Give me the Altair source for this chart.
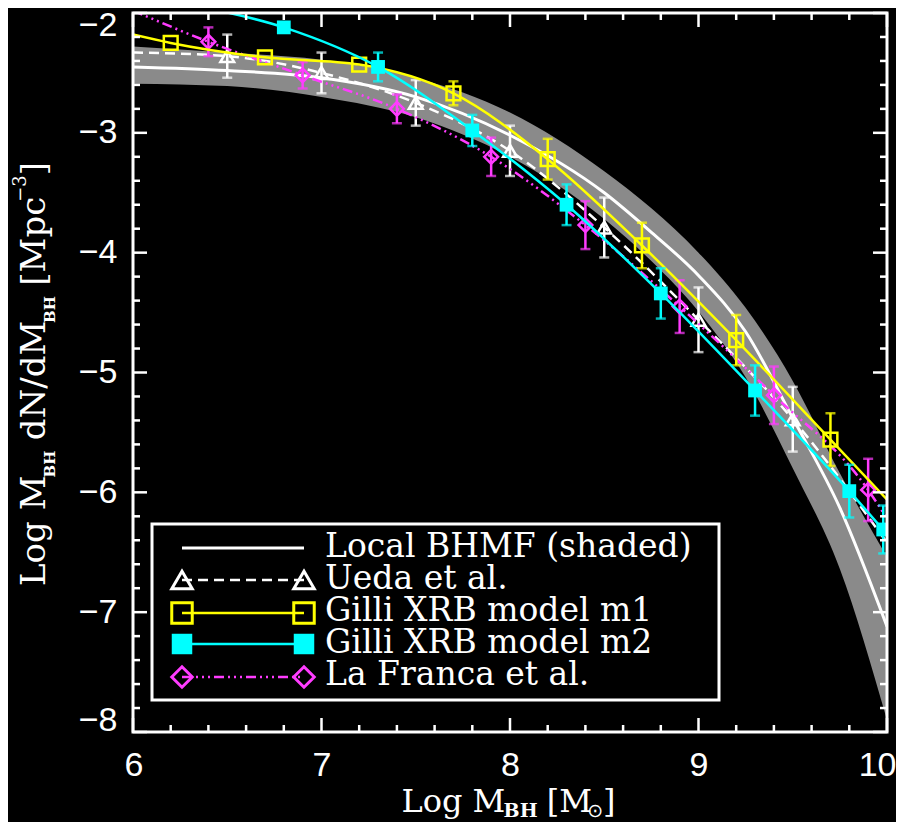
import altair as alt
import pandas as pd

# ---------------- data ----------------
band_x   = [6.0, 6.5, 7.0, 7.5, 8.0, 8.5, 8.75, 9.0, 9.25, 9.5, 9.75, 10.0]
band_mid = [-2.45, -2.48, -2.54, -2.70, -3.02, -3.50, -3.83, -4.19, -4.66, -5.38, -6.13, -7.12]
band_hi  = [-2.28, -2.33, -2.39, -2.54, -2.83, -3.32, -3.63, -4.00, -4.46, -5.07, -5.84, -6.54]
band_lo  = [-2.59, -2.61, -2.70, -2.87, -3.20, -3.72, -4.07, -4.49, -5.04, -5.80, -6.64, -7.90]

ueda_x   = [6.5, 7.0, 7.5, 8.0, 8.5, 9.0, 9.5]
ueda_y   = [-2.36, -2.50, -2.75, -3.15, -3.79, -4.56, -5.39]
ueda_err = [0.18, 0.17, 0.19, 0.21, 0.25, 0.27, 0.27]
ueda_lx  = [6.0, 6.5, 7.0, 7.5, 8.0, 8.5, 9.0, 9.5, 10.0]
ueda_ly  = [-2.33, -2.36, -2.50, -2.75, -3.15, -3.79, -4.56, -5.39, -6.42]

m1_x   = [6.2, 6.7, 7.2, 7.7, 8.2, 8.7, 9.2, 9.7]
m1_y   = [-2.25, -2.37, -2.43, -2.67, -3.22, -3.94, -4.73, -5.56]
m1_err = [0.0, 0.0, 0.0, 0.10, 0.17, 0.19, 0.21, 0.22]
m1_lx  = [6.0, 6.2, 6.7, 7.2, 7.7, 8.2, 8.7, 9.2, 9.7, 10.0]
m1_ly  = [-2.18, -2.25, -2.37, -2.43, -2.67, -3.22, -3.94, -4.73, -5.56, -6.06]

m2_x   = [6.8, 7.3, 7.8, 8.3, 8.8, 9.3, 9.8, 9.98]
m2_y   = [-2.12, -2.45, -2.98, -3.60, -4.34, -5.15, -5.99, -6.31]
m2_err = [0.0, 0.12, 0.13, 0.17, 0.21, 0.21, 0.22, 0.20]
m2_lx  = [6.3, 6.8, 7.3, 7.8, 8.3, 8.8, 9.3, 9.8, 10.0]
m2_ly  = [-1.93, -2.12, -2.45, -2.98, -3.60, -4.34, -5.15, -5.99, -6.35]

lf_x   = [6.4, 6.9, 7.4, 7.9, 8.4, 8.9, 9.4, 9.9]
lf_y   = [-2.24, -2.52, -2.80, -3.20, -3.77, -4.45, -5.19, -5.98]
lf_err = [0.12, 0.11, 0.12, 0.16, 0.20, 0.22, 0.24, 0.26]
lf_lx  = [6.0, 6.4, 6.9, 7.4, 7.9, 8.4, 8.9, 9.4, 9.9, 10.0]
lf_ly  = [-1.98, -2.24, -2.52, -2.80, -3.20, -3.77, -4.45, -5.19, -5.98, -6.22]

x_tick_labels = [6, 7, 8, 9, 10]
y_tick_labels = [-8, -7, -6, -5, -4, -3, -2]

legend_labels = ["Local BHMF (shaded)", "Ueda et al.", "Gilli XRB model m1",
                 "Gilli XRB model m2", "La Franca et al."]

# ---------------- styling / layout ----------------
W, H = 754, 719
WHITE, YEL, CYA, MAG, GRAY = "#ffffff", "#ffff00", "#00ffff", "#ff3cff", "#8a8a8a"
SERIF = "DejaVu Serif"

xscale = alt.Scale(domain=[6, 10], nice=False, zero=False)
yscale = alt.Scale(domain=[-8, -2], nice=False, zero=False)
xaxis = alt.Axis(values=x_tick_labels, title=None, ticks=False, tickSize=0, domain=False,
                 grid=False, labelFont="Liberation Sans", labelFontSize=34, labelColor=WHITE,
                 labelPadding=16, labelOverlap=False, labelBound=False,
                 labelFlush=True, labelFlushOffset=9, format="d")
yaxis = alt.Axis(values=y_tick_labels, title=None, ticks=False, tickSize=0, domain=False,
                 grid=False, labelFont="Liberation Sans", labelFontSize=34, labelColor=WHITE,
                 labelPadding=16, labelOverlap=False, labelBound=False,
                 labelFlush=True, labelFlushOffset=5, format="d")


def X(f):
    return alt.X(f, type="quantitative", scale=xscale, axis=xaxis)


def Y(f):
    return alt.Y(f, type="quantitative", scale=yscale, axis=yaxis)


layers = []

band_df = pd.DataFrame({"x": band_x, "lo": band_lo, "hi": band_hi, "mid": band_mid})
layers.append(alt.Chart(band_df).mark_area(color=GRAY, interpolate="monotone", clip=True)
              .encode(x=X("x"), y=Y("lo"), y2=alt.Y2("hi")))
layers.append(alt.Chart(band_df).mark_line(color=WHITE, strokeWidth=3, interpolate="monotone", clip=True)
              .encode(x=X("x"), y=Y("mid")))


def series(px, py, perr, lx, ly, color, shape, filled, dash, lw):
    out = []
    line_df = pd.DataFrame({"x": lx, "y": ly})
    kw = dict(color=color, strokeWidth=lw, interpolate="monotone", clip=True)
    if dash:
        kw["strokeDash"] = dash
    out.append(alt.Chart(line_df).mark_line(**kw).encode(x=X("x"), y=Y("y")))
    pts = pd.DataFrame({"x": px, "y": py, "e": perr})
    pts["lo"] = pts["y"] - pts["e"]
    pts["hi"] = pts["y"] + pts["e"]
    eb = pts[pts["e"] > 0]
    out.append(alt.Chart(eb).mark_rule(color=color, strokeWidth=2.5, clip=True)
               .encode(x=X("x"), y=Y("lo"), y2=alt.Y2("hi")))
    for f in ("lo", "hi"):
        out.append(alt.Chart(eb).mark_tick(color=color, orient="horizontal", size=10,
                                           thickness=2.5, clip=True)
                   .encode(x=X("x"), y=Y(f)))
    out.append(alt.Chart(pts).mark_point(shape=shape, filled=filled, color=color, size=190,
                                         strokeWidth=2.5, opacity=1, clip=True)
               .encode(x=X("x"), y=Y("y")))
    return out


layers += series(ueda_x, ueda_y, ueda_err, ueda_lx, ueda_ly, WHITE, "triangle-up", False, [10, 6], 2.5)
layers += series(lf_x, lf_y, lf_err, lf_lx, lf_ly, MAG, "diamond", False, [10, 4, 2, 4, 2, 4, 2, 4], 2.5)
layers += series(m1_x, m1_y, m1_err, m1_lx, m1_ly, YEL, "square", False, None, 2.5)
layers += series(m2_x, m2_y, m2_err, m2_lx, m2_ly, CYA, "square", True, None, 2.5)

# ---------------- tick marks (inward, all four sides) ----------------
xt_major = pd.DataFrame({"v": x_tick_labels})
xt_minor = pd.DataFrame({"v": [round(6 + 0.2 * i, 1) for i in range(21) if i % 5]})
yt_major = pd.DataFrame({"v": y_tick_labels})
yt_minor = pd.DataFrame({"v": [round(-8 + 0.2 * i, 1) for i in range(31) if i % 5]})
for df, ln in ((xt_major, 14), (xt_minor, 7)):
    layers.append(alt.Chart(df).mark_rule(color=WHITE, strokeWidth=2.5)
                  .encode(x=X("v"), y=alt.value(H - ln), y2=alt.value(H)))
    layers.append(alt.Chart(df).mark_rule(color=WHITE, strokeWidth=2.5)
                  .encode(x=X("v"), y=alt.value(0), y2=alt.value(ln)))
for df, ln in ((yt_major, 14), (yt_minor, 7)):
    layers.append(alt.Chart(df).mark_rule(color=WHITE, strokeWidth=2.5)
                  .encode(y=Y("v"), x=alt.value(0), x2=alt.value(ln)))
    layers.append(alt.Chart(df).mark_rule(color=WHITE, strokeWidth=2.5)
                  .encode(y=Y("v"), x=alt.value(W - ln), x2=alt.value(W)))

one = pd.DataFrame({"k": [0]})

# frame
layers.append(alt.Chart(one).mark_rect(fill="black", fillOpacity=0, stroke=WHITE, strokeWidth=3)
              .encode(x=alt.value(0), x2=alt.value(W), y=alt.value(0), y2=alt.value(H)))

# ---------------- legend ----------------
layers.append(alt.Chart(one).mark_rect(fill="black", stroke=WHITE, strokeWidth=3)
              .encode(x=alt.value(19), x2=alt.value(586), y=alt.value(511), y2=alt.value(687)))
row_c = [535, 567, 600, 631, 664]
row_b = [544, 576, 608, 640, 672]
leg_style = [
    (WHITE, None, None, False, 3),
    (WHITE, [10, 6], "triangle-up", False, 2.5),
    (YEL, None, "square", False, 2.5),
    (CYA, None, "square", True, 2.5),
    (MAG, [10, 4, 2, 4, 2, 4, 2, 4], "diamond", False, 2.5),
]
for i, (col, dash, shp, fil, lw) in enumerate(leg_style):
    kw = dict(color=col, strokeWidth=lw)
    if dash:
        kw["strokeDash"] = dash
    layers.append(alt.Chart(one).mark_rule(**kw)
                  .encode(x=alt.value(49), x2=alt.value(171), y=alt.value(row_c[i])))
    if shp:
        for sx in (49, 171):
            layers.append(alt.Chart(one).mark_point(shape=shp, filled=fil, color=col, size=420,
                                                    strokeWidth=3, opacity=1)
                          .encode(x=alt.value(sx), y=alt.value(row_c[i])))
    layers.append(alt.Chart(one).mark_text(align="left", baseline="alphabetic", font=SERIF,
                                           fontSize=33, color=WHITE)
                  .encode(x=alt.value(192), y=alt.value(row_b[i]), text=alt.value(legend_labels[i])))

# ---------------- axis titles built from segments (sub/superscripts) ----------------
EM = {'L': .637, 'o': .602, 'g': .640, ' ': .318, 'M': .995, 'B': .80, 'H': .95, 'd': .640,
      'N': .837, '/': .337, '[': .390, ']': .390, 'p': .640, 'c': .560, '\u2212': .838,
      '3': .636, '\u2299': .838}


def tw(s, size):
    return sum(EM.get(ch, .6) for ch in s) * size


def text_layer(txt, size, x, y, angle=0, bold=False, font=SERIF):
    kw = dict(align="left", baseline="alphabetic", font=font, fontSize=size, color=WHITE)
    if angle:
        kw["angle"] = angle
    if bold:
        kw["fontWeight"] = "bold"
    return alt.Chart(one).mark_text(**kw).encode(x=alt.value(x), y=alt.value(y), text=alt.value(txt))


# segment: (text, size, baseline shift, bold, font, pre-gap in px)
xseg = [("Log M", 32, 0, False, SERIF, 0), ("BH", 19, 5, True, SERIF, 0),
        ("[M", 32, 0, False, SERIF, 10), ("\u2299", 19, 5, False, "DejaVu Sans", -4),
        ("]", 32, 0, False, SERIF, 0)]
xtot = sum(tw(s, z) + g for s, z, _, _, _, g in xseg)
cx = W / 2 - 1.5 - xtot / 2
for s, z, off, b, f, g in xseg:
    cx += g
    layers.append(text_layer(s, z, cx, 799 + off, bold=b, font=f))
    cx += tw(s, z)

yseg = [("Log M", 34, 0, False, 0), ("BH", 15, 10, True, 0), ("dN/dM", 34, 0, False, 11),
        ("BH", 15, 10, True, 0), ("[Mpc", 34, 0, False, 11), ("\u22123", 18, -19, False, -4),
        ("]", 34, 0, False, 0)]
ytot = sum(tw(s, z) + g for s, z, _, _, g in yseg)
cy = H / 2 + 1.5 + ytot / 2
for s, z, off, b, g in yseg:
    cy -= g
    layers.append(text_layer(s, z, -88 + off, cy, angle=270, bold=b))
    cy -= tw(s, z)

chart = (alt.layer(*layers)
         .properties(width=W, height=H,
                     padding={"left": 125, "top": 5, "right": 9, "bottom": 90},
                     autosize=alt.AutoSizeParams(type="none"))
         .configure(background="black")
         .configure_view(strokeWidth=0))

chart.save("out.html", embed_options={"renderer": "svg", "actions": False})
